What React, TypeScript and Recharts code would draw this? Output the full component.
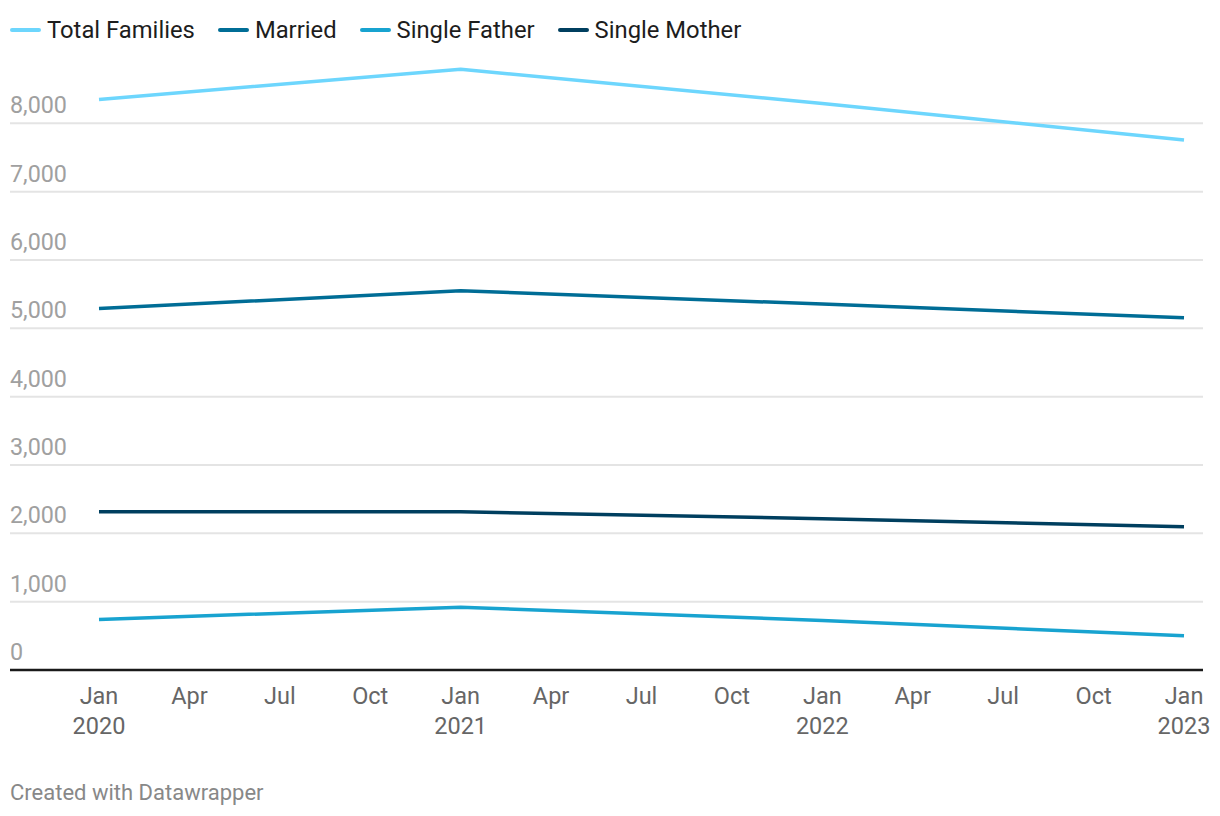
import React from "react";
import { LineChart, Line, XAxis, YAxis, CartesianGrid } from "recharts";

// months since Jan 2020
const monthIndex = [0, 12, 24, 36];
const totalFamilies = [8350, 8790, 8290, 7755];
const married = [5290, 5550, 5355, 5155];
const singleFather = [740, 920, 725, 500];
const singleMother = [2315, 2315, 2215, 2095];

const yTicks = [0, 1000, 2000, 3000, 4000, 5000, 6000, 7000, 8000];
const xTicks = [0, 3, 6, 9, 12, 15, 18, 21, 24, 27, 30, 33, 36];
const quarterLabels = ["Jan", "Apr", "Jul", "Oct"];
const startYear = 2020;

const series = [
  { key: "total", name: "Total Families", color: "#6dd6fd" },
  { key: "married", name: "Married", color: "#006d96" },
  { key: "father", name: "Single Father", color: "#18a3d0" },
  { key: "mother", name: "Single Mother", color: "#003f5f" },
];

const data = monthIndex.map((m, i) => ({
  m,
  total: totalFamilies[i],
  married: married[i],
  father: singleFather[i],
  mother: singleMother[i],
}));

const FONT = "Roboto, 'Noto Sans', sans-serif";

const YTick = (props: any) => {
  const { y, payload } = props;
  return (
    <text x={10} y={y - 10} fill="#a0a0a0" fontSize={23.3} fontFamily={FONT}>
      {Number(payload.value).toLocaleString("en-US")}
    </text>
  );
};

const XTick = (props: any) => {
  const { x, payload } = props;
  const v = payload.value as number;
  const label = quarterLabels[(v / 3) % 4];
  const isJan = v % 12 === 0;
  return (
    <g>
      <text x={x} y={704} textAnchor="middle" fill="#666" fontSize={23.5} fontFamily={FONT}>
        {label}
      </text>
      {isJan && (
        <text x={x} y={734} textAnchor="middle" fill="#666" fontSize={23.5} fontFamily={FONT}>
          {startYear + v / 12}
        </text>
      )}
    </g>
  );
};

export default function App() {
  return (
    <div
      style={{
        position: "fixed",
        left: 0,
        top: 0,
        width: 1220,
        height: 816,
        background: "#fff",
        fontFamily: FONT,
      }}
    >
      {/* Legend */}
      <div
        style={{
          position: "absolute",
          left: 10,
          top: 14,
          display: "flex",
          alignItems: "center",
          fontSize: 23.8,
          color: "#1d1d1d",
          lineHeight: "32px",
        }}
      >
        {series.map((s) => (
          <div key={s.key} style={{ display: "flex", alignItems: "center", marginRight: 23 }}>
            <span
              style={{
                display: "inline-block",
                width: 31,
                height: 4,
                borderRadius: 2,
                background: s.color,
                marginRight: 6,
              }}
            />
            <span>{s.name}</span>
          </div>
        ))}
      </div>

      <div style={{ position: "absolute", left: 0, top: 0 }}>
        <LineChart
          width={1220}
          height={760}
          data={data}
          margin={{ top: 55, right: 17, bottom: 0, left: 0 }}
        >
          <CartesianGrid
            vertical={false}
            stroke="#e4e4e4"
            strokeWidth={2}
            horizontalValues={yTicks}
          />
          <XAxis
            dataKey="m"
            type="number"
            domain={[-2.953, 36.63]}
            ticks={xTicks}
            tick={<XTick />}
            tickLine={false}
            axisLine={{ stroke: "#1a1a1a", strokeWidth: 2.5 }}
            height={90}
            interval={0}
            allowDataOverflow
          />
          <YAxis
            domain={[0, 9000]}
            ticks={yTicks}
            tick={<YTick />}
            tickLine={false}
            axisLine={false}
            width={10}
            interval={0}
          />
          {series.map((s) => (
            <Line
              key={s.key}
              dataKey={s.key}
              name={s.name}
              type="linear"
              stroke={s.color}
              strokeWidth={3.5}
              dot={false}
              activeDot={false}
              strokeLinejoin="round"
              isAnimationActive={false}
            />
          ))}
        </LineChart>
      </div>

      <div
        style={{
          position: "absolute",
          left: 10,
          top: 780,
          fontSize: 22,
          color: "#888",
        }}
      >
        Created with Datawrapper
      </div>
    </div>
  );
}
